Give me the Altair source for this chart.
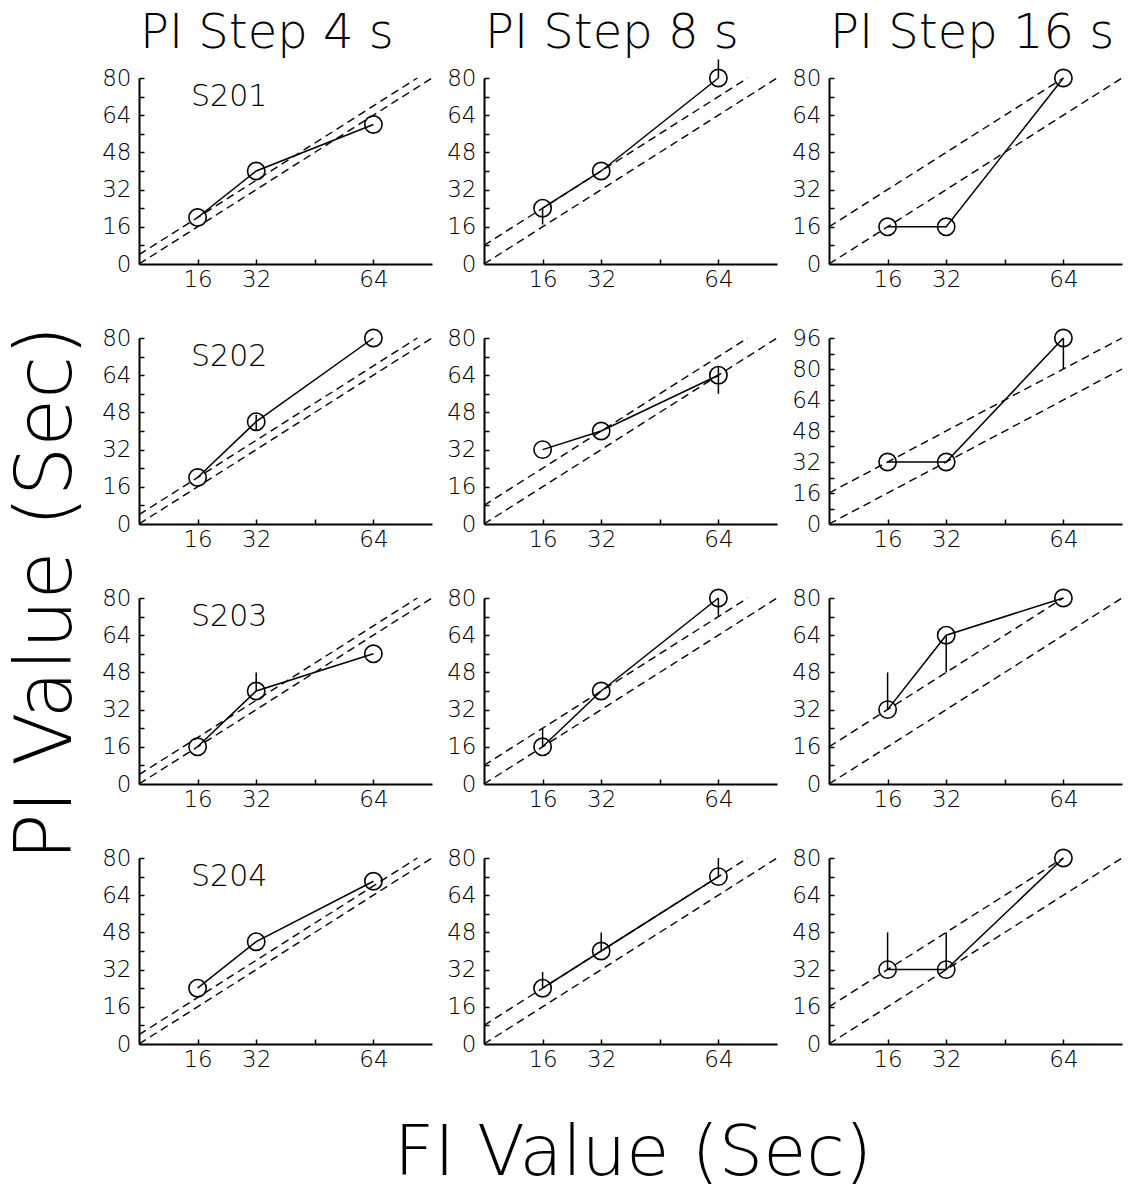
import altair as alt
import pandas as pd

STEPS = [4, 8, 16]
SUBJECTS = ["S201", "S202", "S203", "S204"]
FI_VALUES = [16, 32, 64]
FI_TICKS = [16, 32, 48, 64]

# mean PI value (s) per subject (rows) at FI 16, 32, 64
PI_STEP4 = [[20, 40, 60], [20, 44, 80], [16, 40, 56], [24, 44, 70]]
PI_STEP8 = [[24, 40, 80], [32, 40, 64], [16, 40, 80], [24, 40, 72]]
PI_STEP16 = [[16, 16, 80], [32, 32, 96], [32, 64, 80], [32, 32, 80]]
PI_TABLES = [PI_STEP4, PI_STEP8, PI_STEP16]

# one-sided error bars
ERR_SUBJECT = ["S202", "S203", "S201", "S201", "S202", "S203", "S203", "S204", "S204", "S204",
               "S202", "S203", "S203", "S204", "S204"]
ERR_STEP = [4, 4, 8, 8, 8, 8, 8, 8, 8, 8, 16, 16, 16, 16, 16]
ERR_FI = [32, 32, 16, 64, 64, 16, 64, 16, 32, 64, 64, 16, 32, 16, 32]
ERR_LOW = [40, 40, 17, 80, 56, 16, 72, 24, 40, 72, 80, 32, 48, 32, 32]
ERR_HIGH = [47, 48, 24, 88, 68, 24, 80, 31, 48, 80, 96, 48, 64, 48, 48]

COL_TITLES = ["PI Step 4 s", "PI Step 8 s", "PI Step 16 s"]
Y_TITLE = "PI Value (Sec)"
X_TITLE = "FI Value (Sec)"

W, H = 293, 186
FONT = "DejaVu Sans"
FW = 200
XMAX = 80

err_df = pd.DataFrame({"subject": ERR_SUBJECT, "step": ERR_STEP, "fi": ERR_FI,
                       "low": ERR_LOW, "high": ERR_HIGH})


def text_layer(txt, x, y, size, align="left", baseline="alphabetic", angle=0):
    return alt.Chart(pd.DataFrame({"t": [txt]})).mark_text(
        font=FONT, fontWeight=FW, fontSize=size, align=align, baseline=baseline,
        angle=angle, color="black"
    ).encode(text="t:N", x=alt.value(x), y=alt.value(y))


def panel(si, ci):
    subj = SUBJECTS[si]
    step = STEPS[ci]
    means = PI_TABLES[ci][si]
    ymax = 96 if max(means) > 80 else 80
    pts = pd.DataFrame({"fi": FI_VALUES, "pi": means})
    rows = []
    for off in (0, step):
        xe = min(XMAX, ymax - off)
        rows.append({"ref": off, "fi": 0, "pi": off})
        rows.append({"ref": off, "fi": xe, "pi": xe + off})
    refs = pd.DataFrame(rows)
    errs = err_df[(err_df.subject == subj) & (err_df.step == step)]

    xs = alt.Scale(domain=[0, XMAX], nice=False, zero=False)
    ys = alt.Scale(domain=[0, ymax], nice=False)

    x_axis = alt.Axis(values=FI_VALUES, ticks=False, tickSize=0, labelFontSize=23, labelFont=FONT,
                      labelFontWeight=FW, domainWidth=2, domainColor="black", labelColor="black",
                      labelPadding=4, grid=False, title=None, labelFlush=False)
    y_axis = alt.Axis(values=list(range(0, ymax + 1, 16)), ticks=False, tickSize=0, labelFontSize=23,
                      labelFont=FONT, labelFontWeight=FW, domainWidth=2, domainColor="black",
                      labelColor="black", labelPadding=8, grid=False, title=None, labelFlush=False)
    x_tick_axis = alt.Axis(orient="top", offset=-H, values=FI_TICKS, labels=False, domain=False,
                           tickSize=5, tickWidth=1.5, tickColor="black", grid=False, title=None)
    y_tick_axis = alt.Axis(orient="right", offset=-W, values=list(range(8, ymax + 1, 8)), labels=False,
                           domain=False, tickSize=5, tickWidth=1.5, tickColor="black", grid=False,
                           title=None)

    ref_layer = alt.Chart(refs).mark_line(color="black", strokeWidth=1.4, strokeDash=[8, 5]).encode(
        x=alt.X("fi:Q", scale=xs, axis=x_axis),
        y=alt.Y("pi:Q", scale=ys, axis=y_axis),
        detail="ref:N",
    )
    line_layer = alt.Chart(pts).mark_line(color="black", strokeWidth=1.5).encode(
        x=alt.X("fi:Q", scale=xs, axis=x_tick_axis),
        y=alt.Y("pi:Q", scale=ys, axis=y_tick_axis),
    )
    err_layer = alt.Chart(errs).mark_rule(color="black", strokeWidth=1.5).encode(
        x=alt.X("fi:Q", scale=xs, axis=None),
        y=alt.Y("low:Q", scale=ys, axis=None),
        y2="high:Q",
    )
    pt_layer = alt.Chart(pts).mark_point(shape="circle", filled=False, size=300, strokeWidth=1.6,
                                         color="black", opacity=1).encode(
        x=alt.X("fi:Q", scale=xs, axis=None),
        y=alt.Y("pi:Q", scale=ys, axis=None),
    )
    layers = [ref_layer, line_layer, err_layer, pt_layer]
    if ci == 0:
        layers.append(text_layer(subj, 52, 28, 30))
    if si == 0:
        layers.append(text_layer(COL_TITLES[ci], 1, -30, 48))
    if si == 0 and ci == 0:
        layers.append(text_layer(Y_TITLE, -91, 515, 78, align="center", baseline="middle", angle=270))
    if si == 3 and ci == 1:
        layers.append(text_layer(X_TITLE, 149, 296, 70, align="center", baseline="middle"))
    return alt.layer(*layers).resolve_scale(x="shared", y="shared").resolve_axis(
        x="independent", y="independent").properties(width=W, height=H)


panels = [panel(si, ci) for si in range(4) for ci in range(3)]

chart = alt.concat(*panels, columns=3, spacing={"row": 74, "column": 52}, bounds="flush").properties(
    padding={"left": 8, "top": 10, "right": 5, "bottom": 12},
    background="white",
).configure_view(stroke=None)

chart.save("out.html", embed_options={"renderer": "svg", "actions": False})
